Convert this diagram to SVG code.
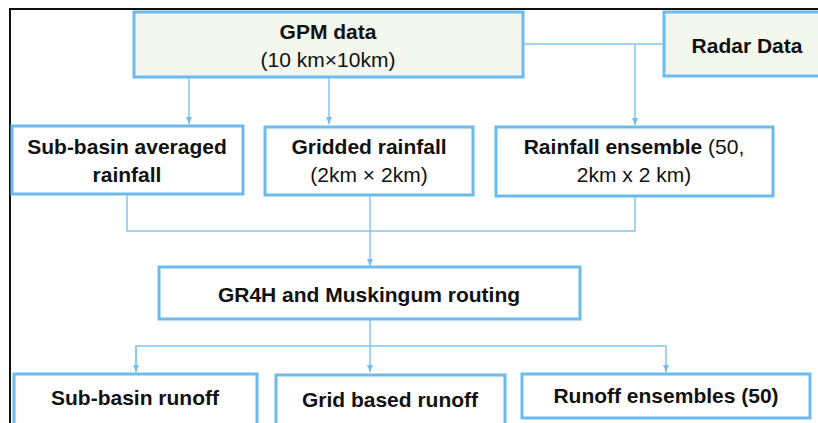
<svg xmlns="http://www.w3.org/2000/svg" width="818" height="423" viewBox="0 0 818 423">
  <defs>
    <marker id="arrow" markerWidth="8" markerHeight="6" refX="7" refY="3" orient="auto" markerUnits="userSpaceOnUse">
      <path d="M0,0 L7,3 L0,6 Z" fill="#74bdea"/>
    </marker>
    <style>
      .box { fill: #ffffff; stroke: #6cbbee; stroke-width: 3; }
      .src { fill: #f4f7ee; }
      .b { font-family: "Liberation Sans", Arial, sans-serif; font-weight: bold; font-size: 21px; fill: #111; text-anchor: middle; }
      .r { font-family: "Liberation Sans", Arial, sans-serif; font-size: 21px; fill: #111; text-anchor: middle; }
      .rt { font-weight: normal; }
      .link { fill: none; stroke: #84c6ee; stroke-width: 1.5; }
    </style>
  </defs>
  <rect width="818" height="423" fill="#ffffff"/>

  <!-- outer frame -->
  <path d="M10,423 V9 H818" fill="none" stroke="#111" stroke-width="2"/>

  <!-- connectors -->
  <g id="connectors">
    <path class="link" d="M523,44 H664"/>
    <path class="link" d="M635,44 V125" marker-end="url(#arrow)"/>
    <path class="link" d="M189,77 V124" marker-end="url(#arrow)"/>
    <path class="link" d="M329,77 V124" marker-end="url(#arrow)"/>
    <path class="link" d="M127,194 V231 H635 V196"/>
    <path class="link" d="M370,196 V266" marker-end="url(#arrow)"/>
    <path class="link" d="M370,319 V372" marker-end="url(#arrow)"/>
    <path class="link" d="M136,372 V346 H666 V372" marker-end="url(#arrow)"/>
    <path class="link" d="M136,346 V372" marker-end="url(#arrow)"/>
  </g>

  <g id="gpm">
    <rect class="box src" x="134" y="12" width="389" height="65"/>
    <text class="b" x="328" y="39">GPM data</text>
    <text class="r" x="328" y="67">(10 km×10km)</text>
  </g>

  <g id="radar">
    <rect class="box src" x="664" y="12" width="160" height="64"/>
    <text class="b" x="747" y="53">Radar Data</text>
  </g>

  <g id="subbasin-rain">
    <rect class="box" x="12" y="126" width="231" height="68"/>
    <text class="b" x="127" y="154">Sub-basin averaged</text>
    <text class="b" x="127" y="182">rainfall</text>
  </g>

  <g id="gridded-rain">
    <rect class="box" x="265" y="127" width="208" height="68"/>
    <text class="b" x="369" y="154">Gridded rainfall</text>
    <text class="r" x="369" y="182">(2km × 2km)</text>
  </g>

  <g id="ensemble-rain">
    <rect class="box" x="496" y="127" width="277" height="69"/>
    <text class="b" x="634" y="154">Rainfall ensemble <tspan class="rt">(50,</tspan></text>
    <text class="r" x="634" y="182">2km x 2 km)</text>
  </g>

  <g id="gr4h">
    <rect class="box" x="159" y="267" width="421" height="52"/>
    <text class="b" x="369" y="302">GR4H and Muskingum routing</text>
  </g>

  <g id="subbasin-runoff">
    <rect class="box" x="14" y="374" width="243" height="56"/>
    <text class="b" x="135" y="405">Sub-basin runoff</text>
  </g>

  <g id="grid-runoff">
    <rect class="box" x="276" y="375" width="229" height="56"/>
    <text class="b" x="390" y="407">Grid based runoff</text>
  </g>

  <g id="ensemble-runoff">
    <rect class="box" x="522" y="374" width="288" height="44"/>
    <text class="b" x="666" y="403">Runoff ensembles (50)</text>
  </g>
</svg>
